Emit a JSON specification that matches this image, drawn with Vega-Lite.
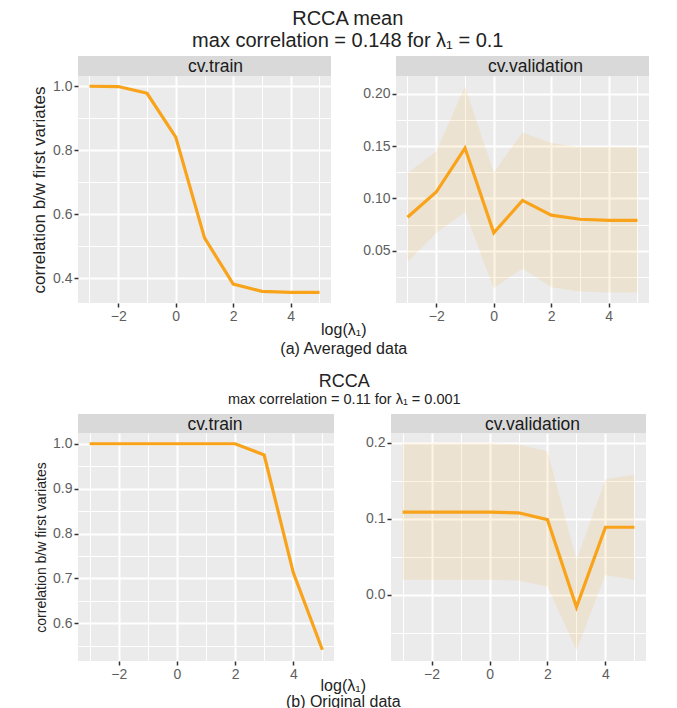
{
  "$schema": "https://vega.github.io/schema/vega-lite/v6.json",
  "padding": {"left": 30, "top": 9, "right": 5, "bottom": 0},
  "background": "white",
  "config": {
    "font": "Liberation Sans",
    "view": {"stroke": null},
    "axis": {"domain": false, "grid": true, "gridColor": "#FFFFFF", "tickColor": "#333333", "tickSize": 4, "tickWidth": 1.5, "labelColor": "#5E5E5E", "labelPadding": 2, "labelFlush": false, "labelOverlap": false, "labelFont": "Liberation Sans", "titleFont": "Liberation Sans", "titleFontWeight": "normal", "titleColor": "#222222"},
    "title": {"font": "Liberation Sans", "fontWeight": "normal", "color": "#222222", "subtitleFont": "Liberation Sans", "subtitleColor": "#222222", "anchor": "middle"}
  },
  "datasets": {
    "avg": [
      {"set": "train", "loglam": -3, "cor": 1.0},
      {"set": "train", "loglam": -2, "cor": 0.999},
      {"set": "train", "loglam": -1, "cor": 0.978},
      {"set": "train", "loglam": 0, "cor": 0.841},
      {"set": "train", "loglam": 1, "cor": 0.526},
      {"set": "train", "loglam": 2, "cor": 0.382},
      {"set": "train", "loglam": 3, "cor": 0.359},
      {"set": "train", "loglam": 4, "cor": 0.356},
      {"set": "train", "loglam": 5, "cor": 0.356},
      {"set": "validation", "loglam": -3, "cor": 0.082, "lo": 0.039, "hi": 0.124},
      {"set": "validation", "loglam": -2, "cor": 0.106, "lo": 0.067, "hi": 0.145},
      {"set": "validation", "loglam": -1, "cor": 0.148, "lo": 0.087, "hi": 0.207},
      {"set": "validation", "loglam": 0, "cor": 0.067, "lo": 0.014, "hi": 0.125},
      {"set": "validation", "loglam": 1, "cor": 0.098, "lo": 0.033, "hi": 0.163},
      {"set": "validation", "loglam": 2, "cor": 0.084, "lo": 0.015, "hi": 0.153},
      {"set": "validation", "loglam": 3, "cor": 0.080, "lo": 0.011, "hi": 0.149},
      {"set": "validation", "loglam": 4, "cor": 0.079, "lo": 0.010, "hi": 0.149},
      {"set": "validation", "loglam": 5, "cor": 0.079, "lo": 0.010, "hi": 0.149}
    ],
    "orig": [
      {"set": "train", "loglam": -3, "cor": 1.0},
      {"set": "train", "loglam": -2, "cor": 1.0},
      {"set": "train", "loglam": -1, "cor": 1.0},
      {"set": "train", "loglam": 0, "cor": 1.0},
      {"set": "train", "loglam": 1, "cor": 1.0},
      {"set": "train", "loglam": 2, "cor": 1.0},
      {"set": "train", "loglam": 3, "cor": 0.975},
      {"set": "train", "loglam": 4, "cor": 0.713},
      {"set": "train", "loglam": 5, "cor": 0.541},
      {"set": "validation", "loglam": -3, "cor": 0.109, "lo": 0.020, "hi": 0.1995},
      {"set": "validation", "loglam": -2, "cor": 0.109, "lo": 0.020, "hi": 0.1995},
      {"set": "validation", "loglam": -1, "cor": 0.109, "lo": 0.020, "hi": 0.1995},
      {"set": "validation", "loglam": 0, "cor": 0.109, "lo": 0.020, "hi": 0.1995},
      {"set": "validation", "loglam": 1, "cor": 0.108, "lo": 0.019, "hi": 0.198},
      {"set": "validation", "loglam": 2, "cor": 0.099, "lo": 0.011, "hi": 0.189},
      {"set": "validation", "loglam": 3, "cor": -0.016, "lo": -0.073, "hi": 0.046},
      {"set": "validation", "loglam": 4, "cor": 0.089, "lo": 0.026, "hi": 0.152},
      {"set": "validation", "loglam": 5, "cor": 0.089, "lo": 0.020, "hi": 0.158}
    ]
  },
  "vconcat": [
    {
      "title": {"text": ["RCCA mean", "max correlation = 0.148 for λ₁ = 0.1"], "fontSize": 20, "lineHeight": 22, "offset": 5, "dx": 8},
      "vconcat": [
        {
          "title": {"text": "log(λ₁)", "orient": "bottom", "fontSize": 16, "subtitle": "(a) Averaged data", "subtitleFontSize": 16, "subtitlePadding": 3, "offset": -1, "dx": 4},
          "spacing": 31,
          "hconcat": [
            {
              "spacing": 0,
              "vconcat": [
                {"width": 253, "height": 20, "view": {"fill": "#D9D9D9", "stroke": null},
                 "data": {"values": [{"strip": "cv.train"}]},
                 "mark": {"type": "text", "fontSize": 17.5, "color": "#1A1A1A", "baseline": "middle", "dy": 1, "dx": 11},
                 "encoding": {"text": {"field": "strip"}}},
                {"width": 253, "height": 227, "view": {"fill": "#EBEBEB", "stroke": null},
                 "data": {"name": "avg"},
                 "transform": [{"filter": "datum.set == 'train'"}],
                 "mark": {"type": "line", "color": "#F9A31B", "strokeWidth": 3.2},
                 "encoding": {
                   "x": {"field": "loglam", "type": "quantitative", "scale": {"domain": [-3.4, 5.4], "nice": false, "zero": false},
                         "axis": {"title": null, "values": [-3, -2, -1, 0, 1, 2, 3, 4, 5], "labelFontSize": 14,
                                  "labelExpr": "datum.value % 2 == 0 ? datum.label : ''",
                                  "gridWidth": {"condition": {"test": "datum.value % 2 == 0", "value": 2}, "value": 1},
                                  "tickOpacity": {"condition": {"test": "datum.value % 2 == 0", "value": 1}, "value": 0}}},
                   "y": {"field": "cor", "type": "quantitative", "scale": {"domain": [0.3227, 1.032], "nice": false, "zero": false},
                         "axis": {"title": "correlation b/w first variates", "titleFontSize": 17, "values": [0.3, 0.4, 0.5, 0.6, 0.7, 0.8, 0.9, 1.0], "labelFontSize": 14,
                                  "labelExpr": "round(datum.value*10) % 2 == 0 ? format(datum.value, '.1f') : ''",
                                  "gridWidth": {"condition": {"test": "round(datum.value*10) % 2 == 0", "value": 2}, "value": 1},
                                  "tickOpacity": {"condition": {"test": "round(datum.value*10) % 2 == 0", "value": 1}, "value": 0}}}
                 }}
              ]
            },
            {
              "spacing": 0,
              "vconcat": [
                {"width": 253, "height": 20, "view": {"fill": "#D9D9D9", "stroke": null},
                 "data": {"values": [{"strip": "cv.validation"}]},
                 "mark": {"type": "text", "fontSize": 17.5, "color": "#1A1A1A", "baseline": "middle", "dy": 1, "dx": 13},
                 "encoding": {"text": {"field": "strip"}}},
                {"width": 253, "height": 227, "view": {"fill": "#EBEBEB", "stroke": null},
                 "data": {"name": "avg"},
                 "transform": [{"filter": "datum.set == 'validation'"}],
                 "encoding": {
                   "x": {"field": "loglam", "type": "quantitative", "scale": {"domain": [-3.4, 5.4], "nice": false, "zero": false},
                         "axis": {"title": null, "values": [-3, -2, -1, 0, 1, 2, 3, 4, 5], "labelFontSize": 14,
                                  "labelExpr": "datum.value % 2 == 0 ? datum.label : ''",
                                  "gridWidth": {"condition": {"test": "datum.value % 2 == 0", "value": 2}, "value": 1},
                                  "tickOpacity": {"condition": {"test": "datum.value % 2 == 0", "value": 1}, "value": 0}}},
                   "y": {"field": "cor", "type": "quantitative", "scale": {"domain": [0, 0.2169], "nice": false, "zero": false},
                         "axis": {"title": null, "values": [0.025, 0.05, 0.075, 0.1, 0.125, 0.15, 0.175, 0.2], "labelFontSize": 14,
                                  "labelExpr": "round(datum.value*40) % 2 == 0 ? format(datum.value, '.2f') : ''",
                                  "gridWidth": {"condition": {"test": "round(datum.value*40) % 2 == 0", "value": 2}, "value": 1},
                                  "tickOpacity": {"condition": {"test": "round(datum.value*40) % 2 == 0", "value": 1}, "value": 0}}}
                 },
                 "layer": [
                   {"mark": {"type": "area", "color": "#F9A31B", "opacity": 0.12},
                    "encoding": {
                      "y": {"field": "lo", "type": "quantitative"},
                      "y2": {"field": "hi"}}},
                   {"mark": {"type": "line", "color": "#F9A31B", "strokeWidth": 3.2}}
                 ]}
              ]
            }
          ]
        }
      ]
    },
    {
      "title": {"text": "RCCA", "subtitle": "max correlation = 0.11 for λ₁ = 0.001", "fontSize": 18, "subtitleFontSize": 14.5, "subtitlePadding": 2, "offset": 8, "dx": 4},
      "vconcat": [
        {
          "title": {"text": "log(λ₁)", "orient": "bottom", "fontSize": 16, "subtitle": "(b) Original data", "subtitleFontSize": 16, "subtitlePadding": 0, "offset": -3, "dx": 3},
          "spacing": 31,
          "hconcat": [
            {
              "spacing": 0,
              "vconcat": [
                {"width": 256, "height": 19, "view": {"fill": "#D9D9D9", "stroke": null},
                 "data": {"values": [{"strip": "cv.train"}]},
                 "mark": {"type": "text", "fontSize": 17.5, "color": "#1A1A1A", "baseline": "middle", "dy": 1, "dx": 9},
                 "encoding": {"text": {"field": "strip"}}},
                {"width": 256, "height": 228, "view": {"fill": "#EBEBEB", "stroke": null},
                 "data": {"name": "orig"},
                 "transform": [{"filter": "datum.set == 'train'"}],
                 "mark": {"type": "line", "color": "#F9A31B", "strokeWidth": 3.2},
                 "encoding": {
                   "x": {"field": "loglam", "type": "quantitative", "scale": {"domain": [-3.4, 5.4], "nice": false, "zero": false},
                         "axis": {"title": null, "values": [-3, -2, -1, 0, 1, 2, 3, 4, 5], "labelFontSize": 14,
                                  "labelExpr": "datum.value % 2 == 0 ? datum.label : ''",
                                  "gridWidth": {"condition": {"test": "datum.value % 2 == 0", "value": 2}, "value": 1},
                                  "tickOpacity": {"condition": {"test": "datum.value % 2 == 0", "value": 1}, "value": 0}}},
                   "y": {"field": "cor", "type": "quantitative", "scale": {"domain": [0.516, 1.024], "nice": false, "zero": false},
                         "axis": {"title": "correlation b/w first variates", "titleFontSize": 14, "values": [0.55, 0.6, 0.65, 0.7, 0.75, 0.8, 0.85, 0.9, 0.95, 1.0], "labelFontSize": 14,
                                  "labelExpr": "round(datum.value*20) % 2 == 0 ? format(datum.value, '.1f') : ''",
                                  "gridWidth": {"condition": {"test": "round(datum.value*20) % 2 == 0", "value": 2}, "value": 1},
                                  "tickOpacity": {"condition": {"test": "round(datum.value*20) % 2 == 0", "value": 1}, "value": 0}}}
                 }}
              ]
            },
            {
              "spacing": 0,
              "vconcat": [
                {"width": 255, "height": 19, "view": {"fill": "#D9D9D9", "stroke": null},
                 "data": {"values": [{"strip": "cv.validation"}]},
                 "mark": {"type": "text", "fontSize": 17.5, "color": "#1A1A1A", "baseline": "middle", "dy": 1, "dx": 14},
                 "encoding": {"text": {"field": "strip"}}},
                {"width": 255, "height": 228, "view": {"fill": "#EBEBEB", "stroke": null},
                 "data": {"name": "orig"},
                 "transform": [{"filter": "datum.set == 'validation'"}],
                 "encoding": {
                   "x": {"field": "loglam", "type": "quantitative", "scale": {"domain": [-3.4, 5.4], "nice": false, "zero": false},
                         "axis": {"title": null, "values": [-3, -2, -1, 0, 1, 2, 3, 4, 5], "labelFontSize": 14,
                                  "labelExpr": "datum.value % 2 == 0 ? datum.label : ''",
                                  "gridWidth": {"condition": {"test": "datum.value % 2 == 0", "value": 2}, "value": 1},
                                  "tickOpacity": {"condition": {"test": "datum.value % 2 == 0", "value": 1}, "value": 0}}},
                   "y": {"field": "cor", "type": "quantitative", "scale": {"domain": [-0.087, 0.213], "nice": false, "zero": false},
                         "axis": {"title": null, "values": [-0.05, 0.0, 0.05, 0.1, 0.15, 0.2], "labelFontSize": 14,
                                  "labelExpr": "abs(round(datum.value*20)) % 2 == 0 ? format(datum.value, '.1f') : ''",
                                  "gridWidth": {"condition": {"test": "abs(round(datum.value*20)) % 2 == 0", "value": 2}, "value": 1},
                                  "tickOpacity": {"condition": {"test": "abs(round(datum.value*20)) % 2 == 0", "value": 1}, "value": 0}}}
                 },
                 "layer": [
                   {"mark": {"type": "area", "color": "#F9A31B", "opacity": 0.12},
                    "encoding": {
                      "y": {"field": "lo", "type": "quantitative"},
                      "y2": {"field": "hi"}}},
                   {"mark": {"type": "line", "color": "#F9A31B", "strokeWidth": 3.2}}
                 ]}
              ]
            }
          ]
        }
      ]
    }
  ],
  "spacing": 15
}
